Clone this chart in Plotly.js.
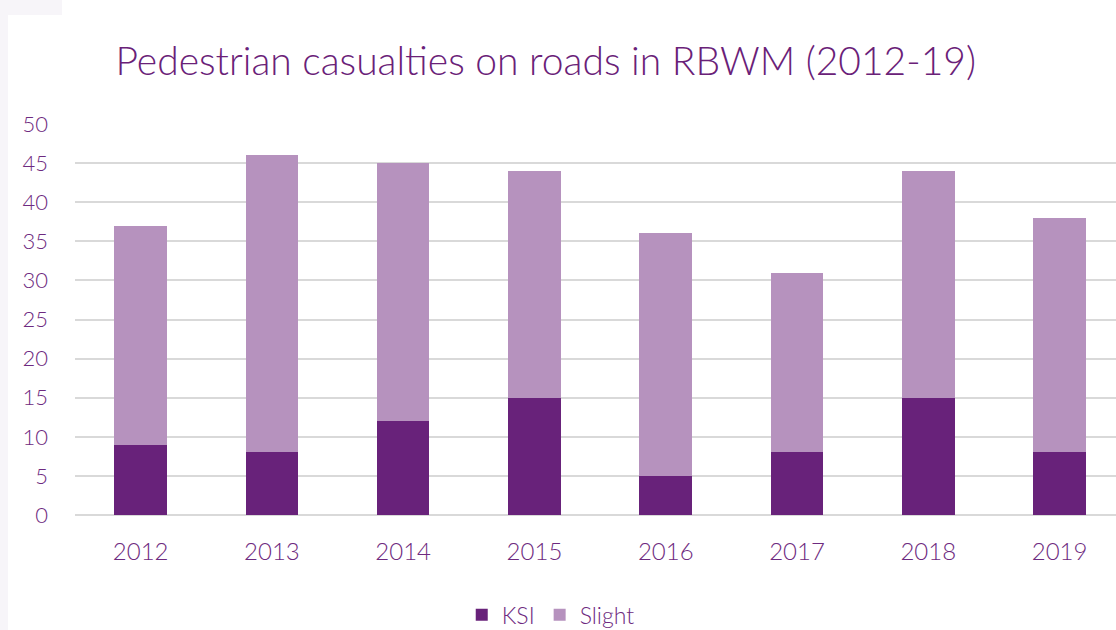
<!DOCTYPE html>
<html>
<head>
<meta charset="utf-8">
<script src="https://cdn.plot.ly/plotly-3.0.1.min.js"></script>
<style>
html,body{margin:0;padding:0;background:#ffffff;overflow:hidden;}
#strip{position:absolute;left:0;top:0;width:8px;height:630px;background:#f7f5f9;}
#corner{position:absolute;left:0;top:0;width:62px;height:15px;background:#f7f5f9;}
#chart{position:absolute;left:0;top:0;width:1116px;height:630px;}
</style>
</head>
<body>
<div id="chart"></div>
<div id="strip"></div>
<div id="corner"></div>
<script>
const years = ['2012','2013','2014','2015','2016','2017','2018','2019'];
const ksi = [9, 8, 12, 15, 5, 8, 15, 8];
const slight = [28, 38, 33, 29, 31, 23, 29, 30];
const yTicks = [0,5,10,15,20,25,30,35,40,45,50];

const fontFam = 'Lato, "Open Sans", sans-serif';
const purple = '#6a2178';
const tickCol = '#6e2a80';

const traces = [
  {type:'bar', name:'KSI', x:years, y:ksi, marker:{color:'#68227a'}, hoverinfo:'y'},
  {type:'bar', name:'Slight', x:years, y:slight, marker:{color:'#b692be'}, hoverinfo:'y'}
];

const layout = {
  width:1116, height:630,
  barmode:'stack', bargap:0.6,
  paper_bgcolor:'rgba(0,0,0,0)', plot_bgcolor:'rgba(0,0,0,0)',
  margin:{l:75, r:0, t:124, b:115, autoexpand:false},
  title:{text:'Pedestrian casualties on roads in RBWM (2012-19)', x:0.489, xanchor:'center', y:0.903, yanchor:'middle',
         font:{family:fontFam, size:39, color:purple, weight:300}},
  xaxis:{type:'category', range:[-0.5,7.43], showgrid:false, zeroline:false, showline:false, automargin:false,
         ticks:'', tickfont:{family:fontFam, size:24, color:tickCol, weight:300}, ticklabelstandoff:20},
  yaxis:{range:[0,50], tickvals:yTicks, showgrid:true, gridcolor:'#d9d9d9', gridwidth:2, automargin:false,
         zeroline:true, zerolinecolor:'#d9d9d9', zerolinewidth:2, showline:false, ticks:'',
         tickfont:{family:fontFam, size:22, color:tickCol, weight:300}, ticklabelstandoff:26},
  showlegend:true,
  legend:{orientation:'h', x:0.457, xanchor:'center', yref:'container', y:0.024, yanchor:'middle',
          font:{family:fontFam, size:23, color:tickCol, weight:300}, traceorder:'normal', itemwidth:30},
  bargroupgap:0
};

Plotly.newPlot('chart', traces, layout, {displayModeBar:false, staticPlot:true});
</script>
</body>
</html>
